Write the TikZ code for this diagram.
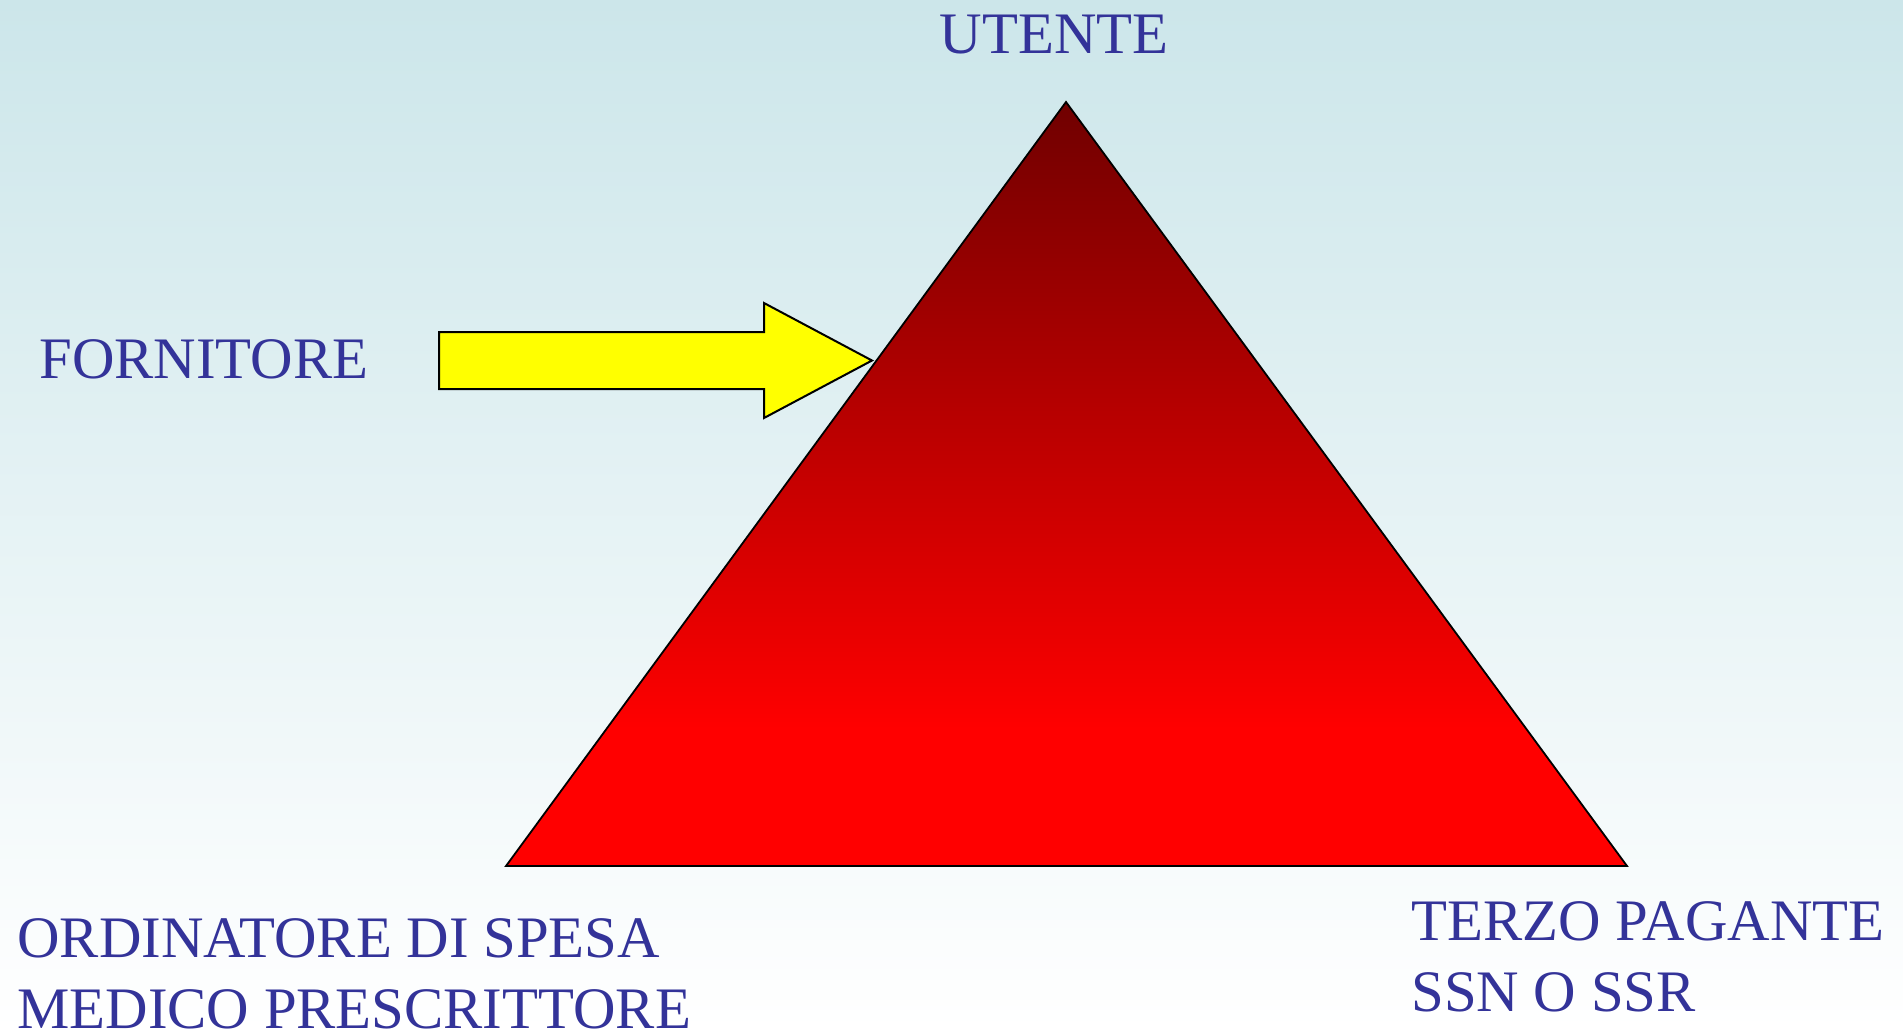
\documentclass[tikz,border=0pt]{standalone}
\usepackage{fontspec}
\setmainfont{Liberation Serif}
\definecolor{labelblue}{RGB}{51,51,153}
\definecolor{skytop}{RGB}{204,230,234}
\definecolor{tridark}{RGB}{112,0,0}
\definecolor{trired}{RGB}{255,0,0}
\definecolor{arrowyellow}{RGB}{255,255,0}
\pgfdeclareverticalshading{pyramid}{100bp}{color(0bp)=(trired); color(34bp)=(trired); color(75bp)=(tridark); color(100bp)=(tridark)}
\begin{document}
\begin{tikzpicture}[x=0.5pt,y=-0.5pt,line join=miter]
			\tikzset{label/.style={text=labelblue,inner sep=0pt,font=\fontsize{29.4}{35.5}\selectfont,align=left}}
			\shade[top color=skytop,bottom color=white] (0,0) rectangle (1903,1030);
			\useasboundingbox (0,0) rectangle (1903,1030);
			% triangle
			\coordinate (apex) at (1066,102);
			\coordinate (bl) at (506,866);
			\coordinate (br) at (1627,866);
			\shade[shading=pyramid,draw=black,line width=0.9pt] (apex)--(br)--(bl)--cycle;
			% arrow
			\coordinate (tail) at (439,360.5);
			\coordinate (tip) at (872,360.5);
			\draw[fill=arrowyellow,line width=1pt] (tail)++(0,-28.5)--(764,332)--(764,303)--(tip)--(764,418)--(764,389)--(439,389)--cycle;
			\node[label,anchor=base] (utente) at (1054,53) {UTENTE};
			\node[label,anchor=base west] (fornitore) at (39,378) {FORNITORE};
			\node[label,anchor=base west] (ordinatore) at (17,1028) {ORDINATORE DI SPESA\\MEDICO PRESCRITTORE};
			\node[label,anchor=base west] (terzo) at (1411,1011) {TERZO PAGANTE\\SSN O SSR};
		\end{tikzpicture}
\end{document}
